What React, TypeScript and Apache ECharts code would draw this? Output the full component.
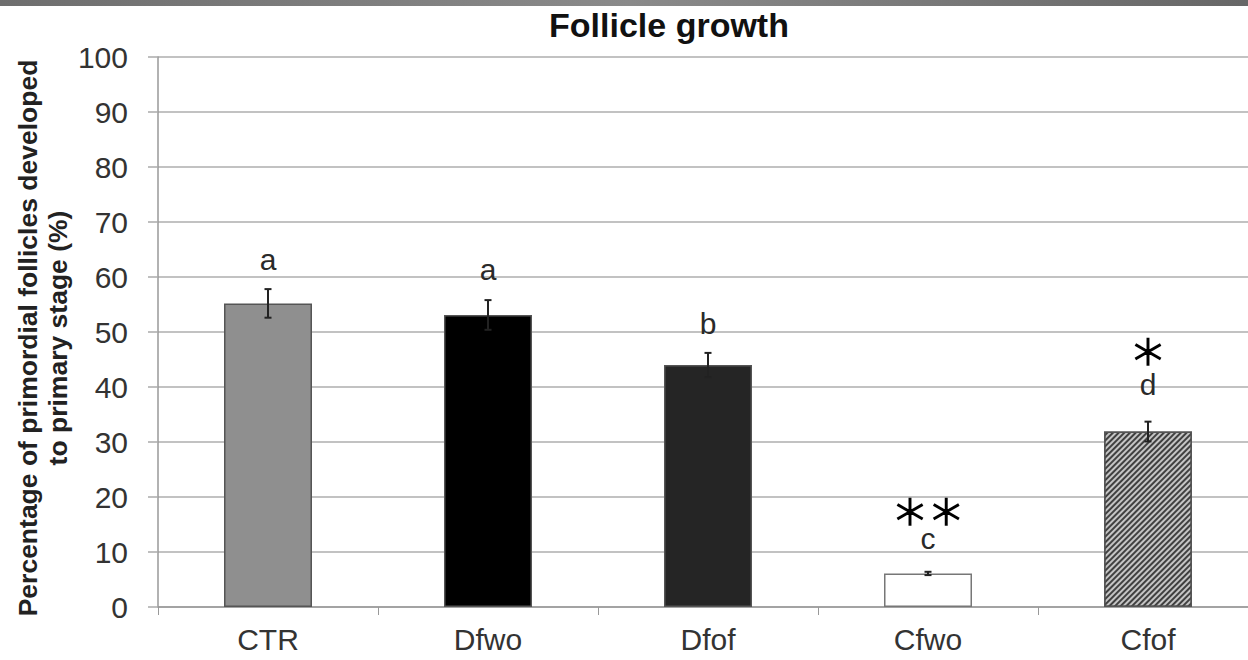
import React, { useEffect, useRef } from "react";
import * as echarts from "echarts";

const categories = ["CTR", "Dfwo", "Dfof", "Cfwo", "Cfof"];
const means = [55.2, 53.1, 44.0, 6.1, 31.9];
const errors = [2.6, 2.7, 2.2, 0.3, 1.8];
const letters = ["a", "a", "b", "c", "d"];
const letterY = [63.1, 61.3, 51.5, 12.5, 40.4];
const stars = ["", "", "", "∗∗", "∗"];
const starY = [0, 0, 0, 17.6, 46.7];
const yTicks = [0, 10, 20, 30, 40, 50, 60, 70, 80, 90, 100];

const FONT = "'Liberation Sans', Arial, sans-serif";

export default function App() {
  const ref = useRef<HTMLDivElement>(null);
  useEffect(() => {
    if (!ref.current) return;
    const chart = echarts.init(ref.current, undefined, { renderer: "svg" });
    const barColors = ["#8f8f8f", "#000000", "#252525", "#ffffff", "#c4c4c4"];
    const barData = means.map((v, i) => {
      const item: any = {
        value: v,
        itemStyle: { color: barColors[i], borderColor: "#555", borderWidth: 1.5 },
      };
      if (i === 3) item.itemStyle.borderColor = "#777";
      if (i === 4) {
        item.itemStyle.decal = {
          symbol: "rect",
          symbolSize: 1,
          dashArrayX: [[1, 0]],
          dashArrayY: [2, 2],
          rotation: -Math.PI / 4,
          color: "#404040",
        };
      }
      return item;
    });
    chart.setOption({
      animation: false,
      backgroundColor: "#fff",
      textStyle: { fontFamily: FONT },
      graphic: [
        {
          type: "rect",
          shape: { x: 0, y: 0, width: 1260, height: 6 },
          style: {
            fill: new echarts.graphic.LinearGradient(0, 0, 1, 0, [
              { offset: 0, color: "#6e6e6e" },
              { offset: 0.5, color: "#8a8a8a" },
              { offset: 1, color: "#666" },
            ]),
          },
        },
        {
          type: "text",
          x: 669,
          y: 25,
          style: {
            text: "Follicle growth",
            font: `bold 34px ${FONT}`,
            fill: "#111",
            textAlign: "center",
            textVerticalAlign: "middle",
          },
        },
        {
          type: "text",
          x: 43,
          y: 338,
          rotation: Math.PI / 2,
          style: {
            text: "Percentage of primordial follicles developed\nto primary stage (%)",
            font: `bold 26.5px ${FONT}`,
            lineHeight: 30,
            fill: "#222",
            textAlign: "center",
            textVerticalAlign: "middle",
          },
        },
      ],
      grid: { left: 158, top: 57, width: 1100, bottom: 53 },
      xAxis: {
        type: "category",
        data: categories,
        axisLine: { lineStyle: { color: "#999", width: 1.5 } },
        axisTick: { show: true, length: 8, lineStyle: { color: "#999" } },
        axisLabel: { fontSize: 30, color: "#333", margin: 17, fontFamily: FONT },
      },
      yAxis: {
        type: "value",
        min: 0,
        max: 100,
        interval: 10,
        axisLine: { show: true, lineStyle: { color: "#999", width: 1.5 } },
        axisTick: { show: true, inside: false, length: 10, lineStyle: { color: "#aaa", width: 1.5 } },
        axisLabel: {
          fontSize: 30,
          color: "#333",
          margin: 30,
          fontFamily: FONT,
          formatter: (v: number) => (yTicks.includes(v) ? String(v) : ""),
        },
        splitLine: { show: true, lineStyle: { color: "#c2c2c2", width: 1.8 } },
      },
      series: [
        {
          type: "bar",
          data: barData,
          barWidth: "40%",
          z: 2,
        },
        {
          type: "custom",
          z: 5,
          data: means.map((m, i) => [i, m - errors[i], m + errors[i]]),
          renderItem: (params: any, api: any) => {
            const i = api.value(0);
            const lo = api.coord([i, api.value(1)]);
            const hi = api.coord([i, api.value(2)]);
            const cap = 3.5;
            const st = { stroke: "#222", lineWidth: 2 };
            return {
              type: "group",
              children: [
                { type: "line", shape: { x1: hi[0], y1: hi[1], x2: lo[0], y2: lo[1] }, style: st },
                { type: "line", shape: { x1: hi[0] - cap, y1: hi[1], x2: hi[0] + cap, y2: hi[1] }, style: st },
                { type: "line", shape: { x1: lo[0] - cap, y1: lo[1], x2: lo[0] + cap, y2: lo[1] }, style: st },
              ],
            };
          },
        },
        {
          type: "custom",
          z: 6,
          data: letters.map((t, i) => [i, letterY[i]]),
          renderItem: (params: any, api: any) => {
            const i = api.value(0);
            const p = api.coord([i, api.value(1)]);
            return {
              type: "text",
              x: p[0],
              y: p[1],
              style: {
                text: letters[params.dataIndex],
                font: `30px ${FONT}`,
                lineHeight: 26,
                fill: "#2a2a2a",
                textAlign: "center",
                textVerticalAlign: "middle",
              },
            };
          },
        },
        {
          type: "custom",
          z: 6,
          data: stars.map((t, i) => [i, starY[i]]),
          renderItem: (params: any, api: any) => {
            const i = api.value(0);
            const p = api.coord([i, api.value(1)]);
            return {
              type: "text",
              x: p[0],
              y: p[1],
              style: {
                text: stars[params.dataIndex],
                font: `200 58px 'DejaVu Sans', sans-serif`,
                lineHeight: 26,
                fill: "#000",
                stroke: "#000",
                lineWidth: 1.6,
                textAlign: "center",
                textVerticalAlign: "middle",
              },
            };
          },
        },
      ],
    });
    return () => chart.dispose();
  }, []);
  return (
    <div
      ref={ref}
      style={{ position: "fixed", left: 0, top: 0, width: 1260, height: 660 }}
    />
  );
}
